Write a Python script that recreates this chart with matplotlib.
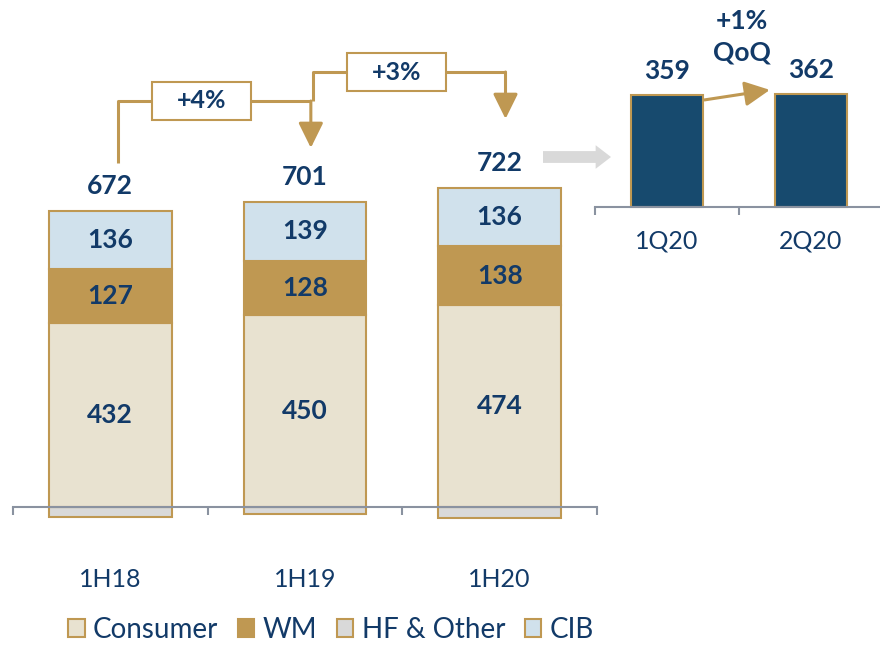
import numpy as np
import matplotlib.pyplot as plt
from matplotlib.patches import Patch, Rectangle

plt.rcParams.update({
    "font.family": ["Lato", "DejaVu Sans"],
    "font.size": 18,
})

# Data
periods = ["1H18", "1H19", "1H20"]
consumer = np.array([432, 450, 474])
wm = np.array([127, 128, 138])
cib = np.array([136, 139, 136])
hf_other = np.array([-23, -16, -26])
totals = [672, 701, 722]
growth = ["+4%", "+3%"]

quarters = ["1Q20", "2Q20"]
quarter_vals = [359, 362]
qoq_label = "+1%\nQoQ"

NAVY = "#123A68"
BAR_NAVY = "#174A6E"
GOLD = "#BF9852"
BEIGE = "#E8E2D0"
GREY = "#D9D9D9"
LIGHT_BLUE = "#D0E1EC"
AXIS = "#8A92A0"

fig = plt.figure(figsize=(8.8, 6.45), dpi=100)

# --- Left panel: half-year stacked bars ---
ax = fig.add_axes([13 / 880, 45 / 645, 584 / 880, 600 / 645])
ax.set_xlim(-0.5, 2.5)
ax.set_ylim(-218, 1190)

x = np.arange(len(periods))
w = 0.63
kw = dict(width=w, edgecolor=GOLD, linewidth=1.5, zorder=1)
ax.bar(x, hf_other, color=GREY, **kw)
ax.bar(x, consumer, color=BEIGE, **kw)
ax.bar(x, wm, bottom=consumer, color=GOLD, **kw)
ax.bar(x, cib, bottom=consumer + wm, color=LIGHT_BLUE, **kw)

for i in x:
    bottoms = [0, consumer[i], consumer[i] + wm[i]]
    for b, v in zip(bottoms, [consumer[i], wm[i], cib[i]]):
        ax.text(i, b + v / 2, str(v), ha="center", va="center",
                fontsize=19, fontweight="bold", color=NAVY)
    top = consumer[i] + wm[i] + cib[i]
    ax.annotate(str(totals[i]), (i, top), xytext=(0, 18), textcoords="offset points",
                ha="center", va="center", fontsize=19, fontweight="bold", color=NAVY)
    ax.text(i, -171, periods[i], ha="center", va="center", fontsize=18, color=NAVY)

# growth connectors
levels = [953, 1021]
starts = [807, 953]
tips = [843, 911]
for k, g in enumerate(growth):
    x0, x1 = k + 0.04, k + 1.03
    ax.plot([x0, x0, x1], [starts[k], levels[k], levels[k]], color=GOLD, lw=2.2,
            solid_capstyle="butt", clip_on=False)
    ax.annotate("", xy=(x1, tips[k]), xytext=(x1, levels[k]),
                arrowprops=dict(arrowstyle="-|>,head_length=0.85,head_width=0.42",
                                color=GOLD, lw=2.2, shrinkA=0, shrinkB=0, mutation_scale=18))
    bx = k + 0.47
    ax.add_patch(Rectangle((bx - 0.254, levels[k] - 44), 0.508, 89,
                           facecolor="white", edgecolor=GOLD, lw=1.5, zorder=3))
    ax.text(bx, levels[k], g, ha="center", va="center", fontsize=18,
            fontweight="bold", color=NAVY, zorder=4)

for s in ["top", "right", "left"]:
    ax.spines[s].set_visible(False)
ax.spines["bottom"].set_position(("data", 0))
ax.spines["bottom"].set_color(AXIS)
ax.spines["bottom"].set_linewidth(1.5)
ax.set_xticks([-0.5, 0.5, 1.5, 2.5])
ax.set_xticklabels([])
ax.tick_params(axis="x", length=6, width=1.5, color=AXIS)
ax.set_yticks([])
ax.patch.set_alpha(0)

# --- Right panel: quarters ---
ax2 = fig.add_axes([595 / 880, 385 / 645, 285 / 880, 260 / 645])
ax2.set_xlim(-0.5, 1.48)
ax2.set_ylim(-169, 661)
xq = np.arange(len(quarters))
ax2.bar(xq, quarter_vals, width=0.5, color=BAR_NAVY, edgecolor=GOLD, linewidth=1.5)
for i, v in zip(xq, quarter_vals):
    ax2.annotate(str(v), (i, v), xytext=(0, 17), textcoords="offset points",
                 ha="center", va="center", fontsize=19, fontweight="bold", color=NAVY)
    ax2.text(i, -109, quarters[i], ha="center", va="center", fontsize=18, color=NAVY)

ax2.text(0.52, 543, qoq_label, ha="center", va="center", fontsize=19,
         fontweight="bold", color=NAVY, linespacing=1.35)
ax2.annotate("", xy=(0.715, quarter_vals[1] + 12), xytext=(0.26, quarter_vals[0] - 17),
             arrowprops=dict(arrowstyle="-|>,head_length=0.85,head_width=0.42",
                             color=GOLD, lw=2.2, shrinkA=0, shrinkB=0, mutation_scale=18))

for s in ["top", "right", "left"]:
    ax2.spines[s].set_visible(False)
ax2.spines["bottom"].set_position(("data", 0))
ax2.spines["bottom"].set_color(AXIS)
ax2.spines["bottom"].set_linewidth(1.5)
ax2.set_xticks([-0.5, 0.5])
ax2.set_xticklabels([])
ax2.tick_params(axis="x", length=6, width=1.5, color=AXIS)
ax2.set_yticks([])
ax2.patch.set_alpha(0)

# grey arrow between panels
ax.annotate("", xy=(611, 488), xytext=(543, 488), xycoords="figure pixels",
            arrowprops=dict(arrowstyle="simple,head_length=0.65,head_width=1.0,tail_width=0.5",
                            color=GREY, lw=0, mutation_scale=17, shrinkA=0, shrinkB=0))

# legend
handles = [Patch(facecolor=BEIGE, edgecolor=GOLD, lw=1.5),
           Patch(facecolor=GOLD, edgecolor=GOLD, lw=1.5),
           Patch(facecolor=GREY, edgecolor=GOLD, lw=1.5),
           Patch(facecolor=LIGHT_BLUE, edgecolor=GOLD, lw=1.5)]
fig.legend(handles, ["Consumer", "WM", "HF & Other", "CIB"], loc="lower center",
           bbox_to_anchor=(0.376, -0.035), ncol=4, frameon=False, fontsize=20,
           handlelength=0.6, handleheight=0.6, handletextpad=0.3,
           columnspacing=0.7, labelcolor=NAVY)

plt.savefig("out.png", dpi=100)
